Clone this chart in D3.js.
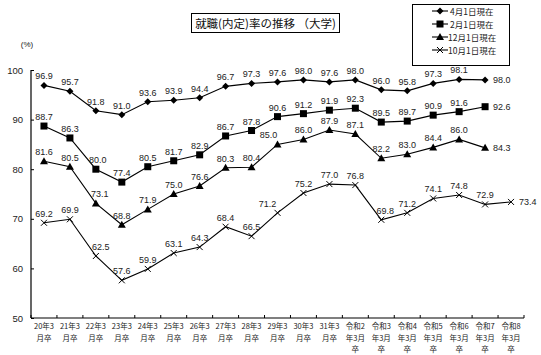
<!DOCTYPE html>
<html><head><meta charset="utf-8">
<script src="https://cdn.jsdelivr.net/npm/d3@7"></script>
<style>body{margin:0;background:#fff}svg{display:block}text{font-family:"Liberation Sans","Noto Sans CJK JP",sans-serif}</style>
</head><body><div id="c"></div>
<script>
const categories = [["20年3","月卒"],["21年3","月卒"],["22年3","月卒"],["23年3","月卒"],["24年3","月卒"],["25年3","月卒"],["26年3","月卒"],["27年3","月卒"],["28年3","月卒"],["29年3","月卒"],["30年3","月卒"],["31年3","月卒"],["令和2","年3月","卒"],["令和3","年3月","卒"],["令和4","年3月","卒"],["令和5","年3月","卒"],["令和6","年3月","卒"],["令和7","年3月","卒"],["令和8","年3月","卒"]];
const seriesNames = ["4月1日現在","2月1日現在","12月1日現在","10月1日現在"];
const apr = [96.9,95.7,91.8,91.0,93.6,93.9,94.4,96.7,97.3,97.6,98.0,97.6,98.0,96.0,95.8,97.3,98.1,98.0];
const feb = [88.7,86.3,80.0,77.4,80.5,81.7,82.9,86.7,87.8,90.6,91.2,91.9,92.3,89.5,89.7,90.9,91.6,92.6];
const dec = [81.6,80.5,73.1,68.8,71.9,75.0,76.6,80.3,80.4,85.0,86.0,87.9,87.1,82.2,83.0,84.4,86.0,84.3];
const oct = [69.2,69.9,62.5,57.6,59.9,63.1,64.3,68.4,66.5,71.2,75.2,77.0,76.8,69.8,71.2,74.1,74.8,72.9,73.4];
const yTicks = [50,60,70,80,90,100];
const title = "就職(内定)率の推移 （大学)";

const W=541,H=355;
const svg=d3.select("#c").append("svg").attr("width",W).attr("height",H);
const x=d3.scaleBand().domain(d3.range(categories.length)).range([31,524]);
const y=d3.scaleLinear().domain([50,100]).range([318,70]);
const cx=i=>x(i)+x.bandwidth()/2;

// axes
const ya=svg.append("g").attr("transform","translate(31,0)")
 .call(d3.axisLeft(y).tickValues(yTicks).tickSize(-3).tickPadding(8));
ya.select(".domain").attr("d",`M0,${y(100)}V${y(50)}`).attr("stroke","#000").attr("stroke-width",1.2);
ya.selectAll("text").attr("font-size",9.5).attr("fill","#222");
ya.selectAll("line").attr("stroke","#000");
const xa=svg.append("g").attr("transform",`translate(0,${y(50)})`);
xa.append("line").attr("x1",31).attr("x2",524).attr("stroke","#000").attr("stroke-width",1.2);
d3.range(categories.length+1).forEach(i=>{
  const xx = i<categories.length? x(i): 524;
  xa.append("line").attr("x1",xx).attr("x2",xx).attr("y1",0).attr("y2",-3).attr("stroke","#000");
});
categories.forEach((c,i)=>{
  const t=xa.append("text").attr("text-anchor","middle").attr("font-size",7.5).attr("fill","#222")
   .style("font-family","'Noto Sans CJK JP',sans-serif");
  c.forEach((s,k)=>t.append("tspan").attr("x",cx(i)).attr("y",11+k*11.5).text(s));
});
svg.append("text").attr("x",27).attr("y",47).attr("text-anchor","middle").attr("font-size",8).attr("fill","#222").text("(%)");

// markers
function marker(g,type,px,py){
  if(type===0) g.append("path").attr("d",`M${px},${py-3.5}L${px+3.5},${py}L${px},${py+3.5}L${px-3.5},${py}Z`).attr("fill","#000");
  else if(type===1) g.append("rect").attr("x",px-3.5).attr("y",py-3.5).attr("width",7).attr("height",7).attr("fill","#000");
  else if(type===2) g.append("path").attr("d",`M${px},${py-4}L${px+4},${py+3}L${px-4},${py+3}Z`).attr("fill","#000");
  else g.append("path").attr("d",`M${px-3},${py-3}L${px+3},${py+3}M${px+3},${py-3}L${px-3},${py+3}`).attr("stroke","#000").attr("stroke-width",1);
}
const data=[apr,feb,dec,oct];
const line=d3.line().x((d,i)=>cx(i)).y(d=>y(d));
const labelDx={1:{2:2},2:{2:4,9:-9},3:{2:5,9:-10,13:4}};
data.forEach((s,k)=>{
  const g=svg.append("g");
  g.append("path").datum(s).attr("d",line).attr("fill","none").attr("stroke","#000").attr("stroke-width",1.1);
  s.forEach((v,i)=>{
    marker(g,k,cx(i),y(v));
    const last=i===s.length-1;
    const dx=(labelDx[k]&&labelDx[k][i])||0;
    g.append("text").attr("x",last?cx(i)+8:cx(i)+dx).attr("y",last?y(v)+3.5:y(v)-6)
     .attr("text-anchor",last?"start":"middle").attr("font-size",9).attr("fill","#222").text(v.toFixed(1));
  });
});

// title
svg.append("rect").attr("x",191.5).attr("y",13.5).attr("width",148).attr("height",19).attr("fill","none").attr("stroke","#000");
svg.append("text").attr("x",265.5).attr("y",27.5).attr("text-anchor","middle").attr("font-size",11.5).attr("fill","#111")
 .style("font-family","'Noto Sans CJK JP',sans-serif").text(title);

// legend
svg.append("rect").attr("x",412.5).attr("y",4.5).attr("width",97).attr("height",61).attr("fill","none").attr("stroke","#000");
seriesNames.forEach((n,k)=>{
  const yy=11+k*13;
  const g=svg.append("g");
  g.append("line").attr("x1",432).attr("x2",448).attr("y1",yy).attr("y2",yy).attr("stroke","#000").attr("stroke-width",1.1);
  marker(g,k,440,yy);
  g.append("text").attr("x",k>=2?448:450).attr("y",yy+3.5).attr("font-size",8.5).attr("fill","#222")
   .style("font-family","'Noto Sans CJK JP',sans-serif").text(n);
});
</script></body></html>
